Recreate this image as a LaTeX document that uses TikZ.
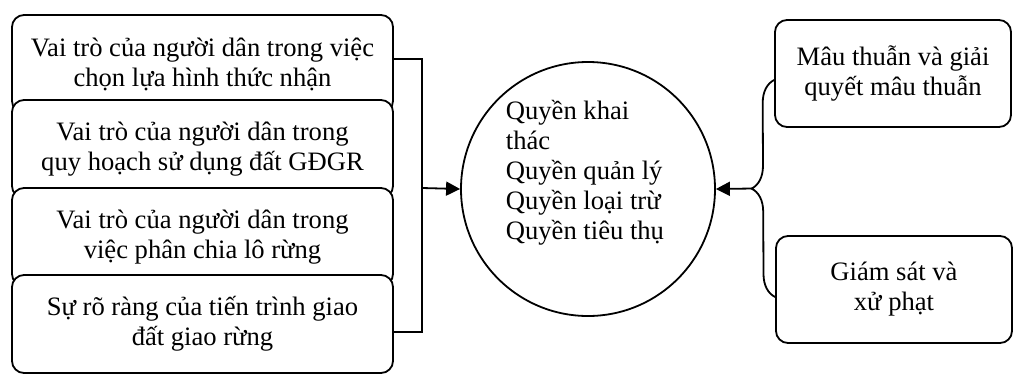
\documentclass[tikz,border=0pt]{standalone}
\usepackage{fontspec}
\setmainfont{Liberation Serif}
\usetikzlibrary{arrows.meta, decorations.pathreplacing}

\begin{document}
\begin{tikzpicture}[x=0.5pt, y=-0.5pt, line width=0.9pt,
    font=\fontsize{13.3}{15}\selectfont,
    vbox/.style={draw, fill=white, rounded corners=6pt, align=center,
                 minimum width=190.5pt, minimum height=49pt, inner sep=0pt},
    rbox/.style={draw, fill=white, rounded corners=6pt, align=center,
                 minimum width=118pt, minimum height=53.5pt, inner sep=0pt},
    arr/.style={-{Triangle[length=7pt,width=7pt]}}]
\useasboundingbox (0,0) rectangle (1013,376);

% LEFT BOXES
\node[vbox] (v1) at (202.5,64)
   {Vai trò của người dân trong việc\\chọn lựa hình thức nhận};
\node[vbox] (v2) at (202.5,149)
   {Vai trò của người dân trong\\quy hoạch sử dụng đất GĐGR};
\node[vbox] (v3) at (202.5,237)
   {Vai trò của người dân trong\\việc phân chia lô rừng};
\node[vbox] (v4) at (202.5,324)
   {Sự rõ ràng của tiến trình giao\\đất giao rừng};

% CENTRE
\node[draw, circle, minimum size=127pt, inner sep=0pt] (q) at (588,189) {};
\node[align=left, anchor=west, inner sep=0pt] (qt) at (505,173)
   {Quyền khai\\thác\\Quyền quản lý\\Quyền loại trừ\\Quyền tiêu thụ};

% RIGHT BOXES
\node[rbox] (r1) at (893,73.5) {Mâu thuẫn và giải\\quyết mâu thuẫn};
\node[rbox] (r2) at (894,289.5) {Giám sát và\\xử phạt};

% Connectors
\coordinate (jl) at (422,188);
\draw ([yshift=2.5pt]v1.east) -| (jl) |- ([yshift=-4pt]v4.east);
\draw[arr] (jl) -- (q.west);

\coordinate (jr) at (753,188.5);
\draw[decorate, decoration={brace, amplitude=11.5pt}]
   ([yshift=-3.75pt]r2.west) -- ([yshift=-3.25pt]r1.west);
\draw[arr] (jr) -- (q.east);

\end{tikzpicture}
\end{document}
